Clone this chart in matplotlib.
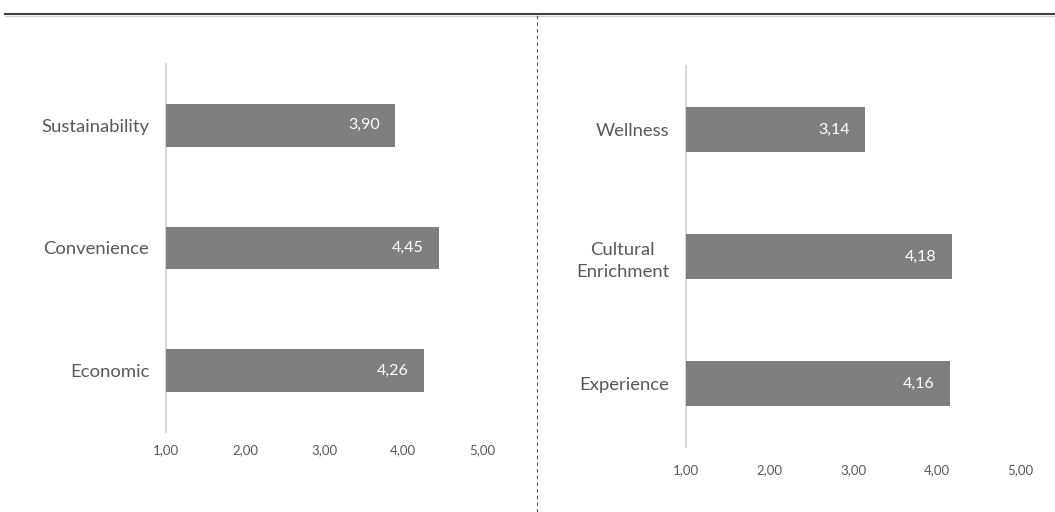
import matplotlib.pyplot as plt
from matplotlib.lines import Line2D

plt.rcParams['font.family'] = ['Lato', 'DejaVu Sans']

left_cats = ["Sustainability", "Convenience", "Economic"]
left_vals = [3.90, 4.45, 4.26]
right_cats = ["Wellness", "Cultural\nEnrichment", "Experience"]
right_vals = [3.14, 4.18, 4.16]
ticks = [1, 2, 3, 4, 5]
tick_labels = ["1,00", "2,00", "3,00", "4,00", "5,00"]

W, H = 1055, 512
fig = plt.figure(figsize=(W / 100, H / 100), dpi=100)


def px_axes(x0, x1, y0, y1):
    return fig.add_axes([x0 / W, 1 - y1 / H, (x1 - x0) / W, (y1 - y0) / H])


def draw(ax, cats, vals, tickpad):
    ypos = list(range(len(cats)))[::-1]
    ax.barh(ypos, [v - 1 for v in vals], left=1, height=0.35, color="#7f7f7f")
    for y, v in zip(ypos, vals):
        ax.annotate(f"{v:.2f}".replace(".", ","), (v, y), xytext=(-11, 0),
                    textcoords="offset points", ha="right", va="center",
                    color="white", fontsize=11.5)
    ax.set_xlim(1, 5)
    ax.set_ylim(-0.5, 2.5)
    ax.set_yticks(ypos)
    ax.set_yticklabels(cats, fontsize=13.3, color="#595959",
                       multialignment="center", linespacing=1.45)
    ax.set_xticks(ticks)
    ax.set_xticklabels(tick_labels, fontsize=9.5, color="#595959")
    ax.tick_params(axis="y", length=0, pad=12)
    ax.tick_params(axis="x", length=0, pad=tickpad)
    for s in ["top", "right", "bottom"]:
        ax.spines[s].set_visible(False)
    ax.spines["left"].set_color("#d9d9d9")
    ax.spines["left"].set_linewidth(1.5)
    ax.spines["left"].set_zorder(0)


ax1 = px_axes(166, 482, 64, 432)
draw(ax1, left_cats, left_vals, 9)
ax2 = px_axes(686, 1020, 66, 447)
draw(ax2, right_cats, right_vals, 12)

# header rule and dashed divider
fig.add_artist(Line2D([5 / W, 1], [1 - 13.5 / H] * 2, color="#404040", lw=1.5,
                      transform=fig.transFigure))
fig.add_artist(Line2D([5 / W, 1], [1 - 15.5 / H] * 2, color="#d0d0d0", lw=0.8,
                      transform=fig.transFigure))
fig.add_artist(Line2D([537 / W] * 2, [0, 1 - 15 / H], color="#505050", lw=0.8,
                      ls=(0, (3, 3)), transform=fig.transFigure))

fig.savefig("out.png", dpi=100)
